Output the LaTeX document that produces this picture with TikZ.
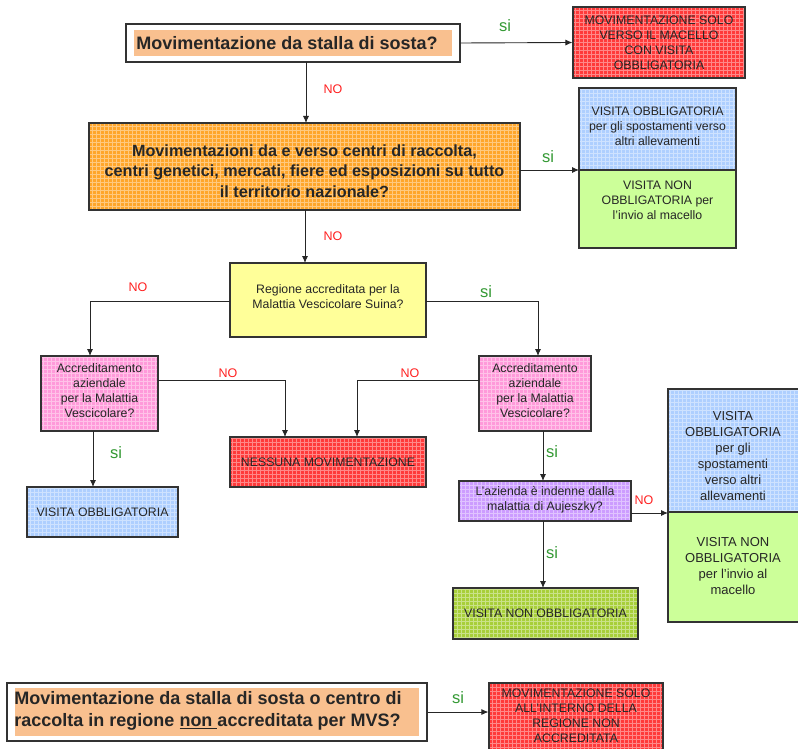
\documentclass[tikz,border=0pt]{standalone}
\usepackage{fontspec}
\setmainfont{Liberation Sans}
\usetikzlibrary{arrows.meta}
\definecolor{peach}{HTML}{F9C08F}
\definecolor{orangebox}{HTML}{FFA62A}
\definecolor{redbox}{HTML}{FF3A3A}
\definecolor{bluebox}{HTML}{AECFFF}
\definecolor{greenbox}{HTML}{CCFF99}
\definecolor{yellowbox}{HTML}{FFFF99}
\definecolor{pinkbox}{HTML}{FF9ADA}
\definecolor{purplebox}{HTML}{CC9CFF}
\definecolor{limebox}{HTML}{A8CF3A}
\definecolor{sigreen}{HTML}{339933}
\definecolor{nored}{HTML}{FF2020}
\begin{document}
\begin{tikzpicture}[x=1pt,y=-1pt,
  bx/.style={draw=black!80, line width=1.1pt, inner sep=0pt},
  gridded/.style={path picture={\draw[white,opacity=0.4,line width=0.7pt]
      ([xshift=-2pt,yshift=-2pt]path picture bounding box.south west) grid[step=4pt]
      ([xshift=2pt,yshift=2pt]path picture bounding box.north east);}},
  txt/.style={inner sep=0pt, align=center, text=black!85, font=\fontsize{12.3}{15}\selectfont},
  bigtxt/.style={inner sep=0pt, align=center, text=black!85, font=\fontsize{13}{16}\selectfont},
  arr/.style={draw=black!85, line width=0.9pt, -{Latex[length=7pt,width=6pt]}},
  ln/.style={draw=black!85, line width=0.9pt},
  silab/.style={inner sep=0pt, text=sigreen, font=\fontsize{16.5}{16.5}\selectfont},
  nolab/.style={inner sep=0pt, text=nored, font=\fontsize{12.5}{12.5}\selectfont}]
\useasboundingbox[fill=white] (0,0) rectangle (798,749);

% ---- Box 1
\node[bx, fill=white, minimum width=334pt, minimum height=38pt] (b1) at (293,43) {};
\fill[peach] (134,30) rectangle (452,56);
\node[inner sep=0pt, text=black!85, font=\bfseries\fontsize{18}{20}\selectfont] (t1) at (287,43) {Movimentazione da stalla di sosta?};

\node[bx, fill=redbox, gridded, minimum width=172pt, minimum height=71pt] (r1) at (659,42.5) {};
\node[txt] (tr1) at (r1.center) {MOVIMENTAZIONE SOLO\\VERSO IL MACELLO\\CON VISITA\\OBBLIGATORIA};

% ---- Box 2
\node[bx, fill=orangebox, gridded, minimum width=431pt, minimum height=87pt] (b2) at (304.5,166.5) {};
\node[inner sep=0pt, align=center, text=black!85, font=\bfseries\fontsize{16.2}{20.5}\selectfont] (t2) at (304.5,171) {Movimentazioni da e verso centri di raccolta,\\centri genetici, mercati, fiere ed esposizioni su tutto\\il territorio nazionale?};

\node[bx, fill=bluebox, gridded, minimum width=157pt, minimum height=82pt] (bl1) at (657.5,129) {};
\node[bx, fill=greenbox, minimum width=157pt, minimum height=78pt] (g1) at (657.5,209) {};
\node[txt] (tbl1) at (657.5,126) {VISITA OBBLIGATORIA\\per gli spostamenti verso\\altri allevamenti};
\node[txt] (tg1) at (657.5,200) {VISITA NON\\OBBLIGATORIA per\\l'invio al macello};

% ---- Yellow
\node[bx, fill=yellowbox, minimum width=196pt, minimum height=74pt] (y) at (328,300) {};
\node[txt] (ty) at (328,297) {Regione accreditata per la\\Malattia Vescicolare Suina?};

% ---- Pink boxes
\node[bx, fill=pinkbox, gridded, minimum width=117pt, minimum height=75pt] (p1) at (99.5,393.5) {};
\node[txt] (tp1) at (99.5,391) {Accreditamento\\aziendale\\per la Malattia\\Vescicolare?};
\node[bx, fill=pinkbox, gridded, minimum width=112pt, minimum height=75pt] (p2) at (535,393.5) {};
\node[txt] (tp2) at (535,391) {Accreditamento\\aziendale\\per la Malattia\\Vescicolare?};

% ---- Red 2
\node[bx, fill=redbox, gridded, minimum width=196pt, minimum height=50pt] (r2) at (328,462) {};
\node[txt] (tr2) at (r2.center) {NESSUNA MOVIMENTAZIONE};

% ---- Blue 2
\node[bx, fill=bluebox, gridded, minimum width=151pt, minimum height=50pt] (bl2) at (102.5,512) {};
\node[txt] (tbl2) at (bl2.center) {VISITA OBBLIGATORIA};

% ---- Purple
\node[bx, fill=purplebox, gridded, minimum width=172pt, minimum height=40pt] (pu) at (545,501) {};
\node[txt] (tpu) at (545,499.5) {L'azienda è indenne dalla\\malattia di Aujeszky?};

% ---- Blue 3 / Green 3
\node[bx, fill=bluebox, gridded, minimum width=132pt, minimum height=123pt] (bl3) at (734,450.5) {};
\node[bx, fill=greenbox, minimum width=132pt, minimum height=110pt] (g3) at (734,567) {};
\node[bigtxt] (tbl3) at (733,456) {VISITA\\OBBLIGATORIA\\per gli\\spostamenti\\verso altri\\allevamenti};
\node[bigtxt] (tg3) at (733,566) {VISITA NON\\OBBLIGATORIA\\per l'invio al\\macello};

% ---- Lime
\node[bx, fill=limebox, gridded, minimum width=185pt, minimum height=51pt] (li) at (545.5,613.5) {};
\node[txt] (tli) at (li.center) {VISITA NON OBBLIGATORIA};

% ---- Bottom
\node[bx, fill=white, minimum width=420pt, minimum height=58pt] (b3) at (217,712) {};
\fill[peach] (15,688) rectangle (419,736);
\node[inner sep=0pt, align=left, text=black!85, font=\bfseries\fontsize{18}{21.5}\selectfont] (t3) at (208,711) {Movimentazione da stalla di sosta o centro di\\raccolta in regione \underline{non\ }accreditata per MVS?};
\node[bx, fill=redbox, gridded, minimum width=174pt, minimum height=80pt] (r3) at (576,723) {};
\node[txt] (tr3) at (576,716) {MOVIMENTAZIONE SOLO\\ALL'INTERNO DELLA\\REGIONE NON\\ACCREDITATA};

% ---- Connectors
\coordinate (c1a) at (306,62);
\coordinate (c1b) at (306,123);
\draw[arr] (b1.east) -- (r1.west);
\draw[arr] (c1a) -- (c1b);
\coordinate (c2a) at (520,170);
\coordinate (c2b) at (579,170);
\draw[arr] (c2a) -- (c2b);
\coordinate (c3a) at (305,210);
\coordinate (c3b) at (305,263);
\draw[arr] (c3a) -- (c3b);
\coordinate (yl) at (230,301);
\coordinate (yr) at (426,301);
\draw[arr] (yl) -- (90,301) -- (90,356);
\draw[arr] (yr) -- (538,301) -- (538,356);
\coordinate (p1r) at (158,380);
\draw[arr] (p1r) -- (285,380) -- (285,437);
\coordinate (p2l) at (479,380);
\draw[arr] (p2l) -- (357,380) -- (357,437);
\coordinate (p1b) at (93,431);
\draw[arr] (p1b) -- (93,487);
\coordinate (p2b) at (543,431);
\draw[arr] (p2b) -- (543,481);
\coordinate (pur) at (631,513);
\draw[arr] (pur) -- (668,513);
\coordinate (pub) at (543,521);
\draw[arr] (pub) -- (543,588);
\draw[arr] (b3.east) -- (r3.west |- b3.east);

% ---- Labels
\node[silab] (s1) at (505,26) {si};
\node[nolab] (n1) at (333,89) {NO};
\node[silab] (s2) at (548,157) {si};
\node[nolab] (n2) at (333,236) {NO};
\node[nolab] (n3) at (138,287) {NO};
\node[silab] (s3) at (486,292) {si};
\node[nolab] (n4) at (228,373) {NO};
\node[nolab] (n5) at (410,373) {NO};
\node[silab] (s4) at (116,453) {si};
\node[silab] (s5) at (552,452) {si};
\node[nolab] (n6) at (644,500) {NO};
\node[silab] (s6) at (552,553) {si};
\node[silab] (s7) at (458,698) {si};
\end{tikzpicture}
\end{document}
